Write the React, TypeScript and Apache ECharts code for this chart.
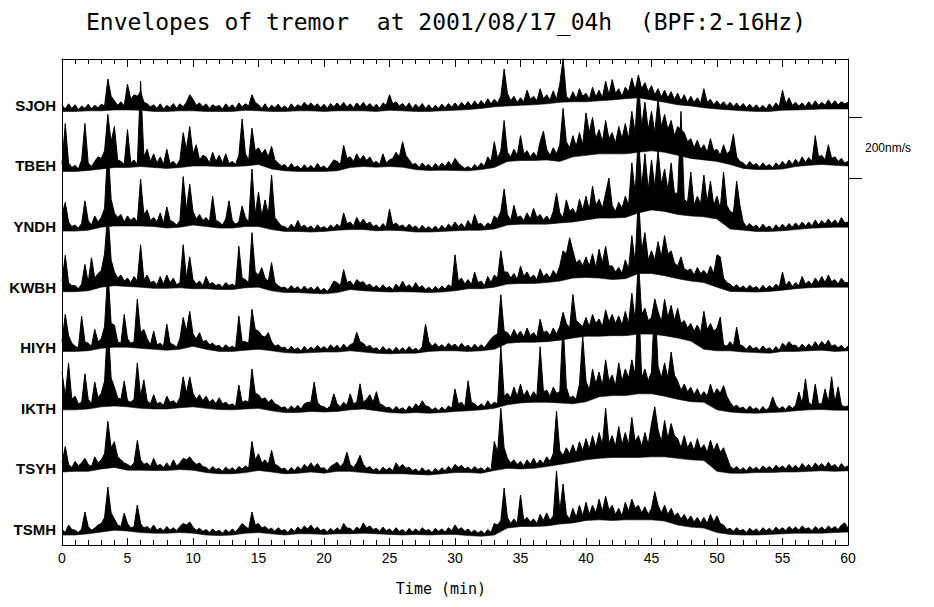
import React, { useEffect, useRef } from 'react';
import * as echarts from 'echarts';

const STATIONS = ['SJOH', 'TBEH', 'YNDH', 'KWBH', 'HIYH', 'IKTH', 'TSYH', 'TSMH'];
const TIME_STEP_MIN = 0.25; // upper-edge samples
const LOW_STEP_MIN = 1; // lower-edge samples
const TRACE_SPACING = 200; // nm/s between stacked traces
const LABEL_LEVEL = 40;
const SCALE_BAR = [1200, 1400];
const Y_MIN = -11;
const Y_MAX = 1593;

// upper edge of each envelope band (nm/s above the trace's own zero), every 0.25 min
const SJOH = [40,28,45,30, 42,26,38,30, 44,29,40,32, 44,38,127,70, 55,40,52,38, 110,60,75,70, 85,50,45,35, 42,30,45,28, 40,32,46,30, 45,35,50,75,
60,40,48,35, 45,30,42,35, 40,28,45,32, 42,30,48,35, 45,38,75,50, 42,30,45,28, 40,32,44,30, 38,28,45,32, 42,35,50,38, 48,36,45,32,
44,30,46,35, 48,36,50,34, 45,32,48,36, 50,35,46,33, 44,30,48,40, 75,45,52,38, 46,34,48,30, 44,32,46,30, 42,28,40,30, 44,32,46,34,
48,35,50,38, 52,38,55,40, 56,42,62,45, 60,48,70,160, 80,55,70,50, 65,52,90,60, 70,55,95,62, 75,58,88,60, 110,195,70,60, 85,62,95,70,
80,60,100,68, 90,65,120,75, 125,80,95,70, 100,85,130,90, 140,95,115,85, 105,75,95,68, 90,65,85,60, 80,55,75,50, 70,50,65,48, 95,50,60,42,
55,40,52,38, 50,36,48,34, 46,32,44,30, 42,30,40,28, 45,32,48,36, 90,45,65,40, 50,38,48,36, 52,38,55,40, 50,40,58,42, 55,42,52,45,
50];

const TBEH = [45,180,50,35, 42,30,60,180, 50,38,55,70, 65,90,210,120, 170,60,55,45, 160,50,60,45, 320,70,95,55, 80,50,70,45, 95,48,55,42, 60,150,95,170,
80,110,60,75, 70,50,85,55, 75,50,80,48, 55,45,75,195, 80,60,165,90, 100,80,95,70, 105,60,50,40, 45,32,48,35, 40,30,44,32, 42,30,48,34,
40,30,45,60, 55,45,108,65, 70,55,80,60, 75,58,70,50, 55,45,80,50, 60,65,85,70, 120,75,60,45, 48,35,50,38, 45,32,48,36, 50,38,55,42,
65,50,40,32, 38,30,45,35, 50,40,70,55, 120,65,90,190, 85,70,95,75, 140,80,90,70, 85,70,120,155, 95,75,100,80, 110,230,120,100, 140,105,150,110,
215,150,200,130, 160,120,190,130, 150,115,170,130, 180,130,220,150, 320,170,250,160, 220,150,260,170, 210,160,190,140, 170,160,150,120, 130,100,125,95, 110,85,130,90,
95,75,110,80, 90,145,70,55, 50,40,55,42, 48,36,50,38, 45,34,50,40, 55,42,60,45, 62,48,70,52, 68,55,140,70, 75,60,110,65, 70,55,65,50,
55];

const YNDH = [80,120,55,40, 45,35,50,125, 60,45,75,55, 70,100,310,130, 85,70,80,55, 75,60,70,55, 197,80,95,60, 70,55,85,50, 105,60,55,45, 60,205,95,180,
90,65,80,60, 70,55,140,60, 55,45,65,125, 60,48,55,108, 70,55,230,80, 154,75,128,80, 210,70,55,42, 40,32,48,35, 60,38,45,34, 42,30,46,34,
40,32,45,36, 48,38,85,50, 55,42,70,50, 65,48,55,40, 45,35,50,38, 98,45,52,40, 45,35,48,36, 42,30,44,32, 40,30,42,30, 44,32,48,38,
55,40,50,35, 60,42,80,48, 50,38,52,45, 75,65,90,164, 80,60,110,70, 75,60,85,65, 100,70,80,62, 75,60,90,150, 85,70,128,90, 100,80,130,95,
140,95,174,110, 130,100,150,200, 110,90,120,100, 140,110,250,150, 340,170,280,160, 260,170,290,180, 230,160,250,150, 150,420,130,120, 220,110,140,115, 210,120,190,110,
140,100,220,110, 90,85,190,110, 55,40,50,38, 45,32,48,35, 42,30,46,34, 48,36,50,38, 52,40,55,42, 55,42,62,45, 60,48,65,50, 62,48,70,52,
55];

const KWBH = [60,145,55,45, 45,35,50,115, 55,137,70,85, 95,150,290,130, 90,70,80,60, 70,55,75,60, 180,65,80,55, 60,48,75,50, 80,55,70,48, 55,180,70,140,
65,50,60,45, 75,50,55,45, 50,40,55,45, 50,42,175,70, 65,55,220,90, 80,104,70,60, 121,55,45,38, 40,32,45,34, 42,30,44,32, 40,30,42,28,
36,26,40,60, 55,45,98,55, 60,45,65,55, 58,45,50,38, 45,35,48,36, 42,32,50,38, 60,40,48,36, 55,38,45,32, 40,30,42,32, 44,34,48,40,
147,60,70,50, 65,48,90,55, 60,45,75,55, 80,70,160,90, 90,70,85,65, 110,75,90,70, 80,65,100,75, 85,70,95,80, 110,160,150,203, 160,120,130,110,
140,110,150,105, 165,120,175,110, 110,90,105,85, 130,100,210,120, 340,160,220,130, 160,130,190,140, 210,150,160,120, 110,140,100,95, 100,80,105,85, 95,80,110,85,
147,140,70,55, 50,40,48,36, 44,34,46,36, 42,32,46,34, 45,36,50,40, 90,45,60,42, 55,45,75,50, 60,48,70,55, 75,55,80,58, 65,50,70,55,
55];

const HIYH = [60,150,80,55, 45,40,144,60, 55,45,101,60, 70,110,299,120, 115,60,55,150, 70,55,60,200, 90,100,70,50, 95,50,55,45, 118,55,50,42, 70,140,95,160,
85,70,90,60, 65,50,55,45, 48,38,50,40, 45,38,145,60, 60,55,167,100, 95,80,75,90, 60,45,50,40, 42,32,45,34, 40,30,44,32, 42,34,48,36,
44,34,50,38, 48,36,52,40, 50,55,91,60, 55,42,48,36, 40,30,44,32, 38,28,42,30, 40,30,44,32, 38,30,44,118, 60,45,55,42, 50,40,55,45,
52,40,55,42, 48,38,52,40, 50,40,55,70, 80,85,215,95, 90,75,100,80, 95,75,105,80, 90,75,134,90, 95,80,105,85, 110,157,120,105, 216,130,120,110,
140,110,150,120, 135,110,165,125, 150,120,145,115, 160,120,220,130, 330,150,170,130, 140,200,160,125, 200,140,180,130, 170,120,130,105, 120,95,115,90, 160,100,120,95,
105,141,50,45, 60,45,108,50, 45,35,48,36, 42,32,46,34, 40,30,44,32, 55,45,60,48, 48,38,52,40, 52,42,60,45, 61,48,65,45, 50,40,48,36,
45];

const IKTH = [160,80,190,70, 80,55,60,154, 70,55,127,75, 90,130,330,140, 110,75,70,130, 65,60,70,190, 80,134,65,55, 85,55,60,50, 80,60,65,55, 75,144,90,144,
90,70,85,65, 80,60,70,55, 75,55,60,50, 55,45,117,60, 65,60,170,90, 85,70,75,60, 70,55,50,42, 45,35,48,38, 50,38,55,60, 60,127,60,48,
45,38,50,88, 55,45,60,50, 88,55,60,121, 60,70,85,60, 95,55,50,42, 44,34,46,36, 42,32,48,38, 55,45,65,48, 45,35,42,32, 44,34,48,40,
104,55,60,45, 131,60,55,45, 55,45,65,50, 60,55,246,80, 90,75,110,80, 120,80,100,75, 95,80,243,95, 100,80,110,90, 95,325,110,75, 80,70,120,279,
130,100,170,120, 160,115,200,130, 150,115,190,130, 170,140,200,150, 420,140,170,130, 160,400,180,140, 190,140,226,150, 130,100,120,95, 110,85,105,80, 95,80,120,85,
105,90,115,80, 60,45,50,40, 44,34,48,36, 42,32,46,34, 44,78,50,38, 46,36,50,40, 50,94,55,137, 60,50,120,55, 55,104,60,144, 60,111,50,45,
48];

const TSYH = [60,114,55,45, 65,50,60,75, 55,48,80,60, 70,90,197,110, 130,80,70,60, 55,48,60,134, 70,55,60,48, 75,50,55,45, 60,45,70,50, 60,75,70,80,
65,55,60,48, 45,36,48,38, 42,32,46,36, 44,34,48,40, 50,42,131,70, 90,60,70,55, 101,55,50,40, 42,32,45,34, 48,38,55,45, 60,45,58,42,
44,34,48,55, 62,48,60,95, 55,45,60,85, 55,42,48,36, 42,32,46,36, 44,34,60,45, 55,42,46,34, 40,30,44,32, 38,28,42,32, 44,34,48,38,
55,45,52,40, 46,36,48,38, 44,34,46,36, 131,95,240,110, 75,60,70,55, 65,50,70,55, 75,55,70,58, 80,65,90,230, 100,85,110,90, 120,90,130,100,
140,105,150,110, 160,120,240,125, 150,115,180,120, 160,120,210,130, 150,115,160,120, 190,245,170,130, 200,140,190,150, 140,110,150,110, 130,100,140,105, 120,95,135,100,
125,95,110,80, 50,40,48,36, 44,34,48,38, 46,36,50,40, 48,38,52,42, 50,40,55,42, 52,40,58,45, 55,42,60,48, 58,45,62,48, 55,42,58,45,
50];

const TSMH = [40,30,55,40, 38,30,42,98, 50,38,45,55, 60,80,180,95, 75,55,50,94, 60,45,50,121, 60,45,50,40, 55,38,45,36, 50,38,46,36, 50,60,55,65,
48,38,44,34, 40,30,42,32, 38,28,40,30, 42,32,45,60, 50,42,98,55, 60,45,50,40, 44,34,46,36, 40,30,44,34, 48,38,52,42, 55,40,48,36,
42,32,44,34, 46,36,60,45, 44,34,48,40, 62,45,52,40, 44,34,48,36, 42,32,46,34, 40,30,44,32, 42,32,46,36, 40,30,44,34, 42,32,46,36,
55,40,46,34, 42,30,38,28, 36,26,40,30, 60,55,70,177, 80,60,75,60, 154,70,80,65, 75,60,90,70, 95,70,85,233, 100,190,90,75, 110,80,120,85,
130,90,120,95, 140,100,150,105, 120,90,110,85, 130,100,140,110, 120,95,115,90, 110,165,120,95, 120,90,110,85, 95,75,90,70, 85,65,80,62, 80,60,90,65,
85,60,55,40, 44,34,46,36, 40,30,44,34, 42,32,46,36, 44,34,48,38, 46,36,50,40, 48,38,52,42, 46,36,50,40, 48,38,52,42, 50,40,55,62,
45];

// lower edge of each envelope band, every 1 min
const SJOH_LOW = [20,20,22,22,25,25,24,20,20,22, 22,20,20,20,24,22,20,20,22,22, 20,22,22,22,20,24,22,20,20,22,
24,26,30,35,38,40,42,45,50,52, 52,55,58,62,65,58,50,42,38,32, 28,25,22,20,20,24,25,26,28,28, 28];
const TBEH_LOW = [22,22,25,30,35,35,38,35,32,35, 40,40,38,38,40,45,30,24,22,22, 22,24,35,38,36,38,36,28,25,26,
25,24,28,35,55,58,58,60,55,70, 75,80,80,80,85,90,85,75,65,60, 55,45,32,28,28,30,38,42,45,42, 40];
const YNDH_LOW = [25,25,28,38,42,42,42,40,35,38, 45,40,35,35,40,40,30,24,24,22, 24,28,30,30,26,28,26,22,22,24,
26,28,28,32,45,48,48,48,52,55, 62,68,68,70,85,95,90,80,75,72, 65,32,28,24,24,26,30,34,36,38, 38];
const KWBH_LOW = [25,25,28,40,45,42,40,36,36,38, 35,35,32,32,38,40,28,22,22,20, 18,22,32,28,26,24,25,24,22,24,
28,35,35,40,50,52,52,55,60,70, 72,70,65,68,85,85,78,68,60,55, 40,26,25,24,26,30,35,38,40,40, 40];
const HIYH_LOW = [28,28,30,38,42,42,38,35,32,35, 45,35,28,28,32,35,30,24,22,24, 26,26,30,26,22,20,22,22,28,30,
30,28,30,35,55,58,58,60,65,72, 78,78,80,80,85,85,80,72,62,35, 30,30,26,24,22,28,28,30,32,28, 30];
const IKTH_LOW = [35,35,38,45,48,45,40,38,38,42, 45,40,36,35,38,40,32,26,26,30, 28,30,35,38,32,26,24,26,24,26,
30,32,35,40,52,58,60,60,58,55, 62,78,82,82,88,88,80,70,62,60, 35,28,25,24,26,28,32,35,36,34, 34];
const TSYH_LOW = [30,32,32,40,45,36,36,35,35,38, 36,28,24,24,28,35,30,24,26,30, 26,32,32,28,24,24,24,22,20,24,
28,28,26,35,42,40,42,48,55,62, 70,75,78,78,78,80,80,75,70,68, 32,26,26,28,28,30,30,32,34,32, 34];
const TSMH_LOW = [22,22,26,32,38,35,30,28,28,30, 28,22,20,22,28,30,26,22,26,26, 24,26,26,28,26,24,22,24,22,24,
24,20,18,22,45,50,50,52,58,62, 70,72,70,72,72,72,68,55,48,45, 30,24,22,22,24,26,28,28,28,30, 32];

const TRACES = [SJOH, TBEH, YNDH, KWBH, HIYH, IKTH, TSYH, TSMH];
const LOWS = [SJOH_LOW, TBEH_LOW, YNDH_LOW, KWBH_LOW, HIYH_LOW, IKTH_LOW, TSYH_LOW, TSMH_LOW];

export default function App() {
  const ref = useRef<HTMLDivElement>(null);
  useEffect(() => {
    if (!ref.current) return;
    const chart = echarts.init(ref.current, null, { renderer: 'svg' });
    const n = STATIONS.length;
    const series: any[] = [];
    TRACES.forEach((vals, k) => {
      const offset = (n - 1 - k) * TRACE_SPACING;
      // band top (black fill downwards)
      series.push({
        type: 'line',
        name: STATIONS[k],
        data: vals.map((v, j) => [j * TIME_STEP_MIN, offset + v]),
        showSymbol: false,
        symbol: 'none',
        silent: true,
        clip: true,
        z: 2 + 2 * k,
        lineStyle: { color: '#000', width: 1 },
        areaStyle: { color: '#000', opacity: 1, origin: 'start' },
      });
      // band bottom (white fill below it)
      series.push({
        type: 'line',
        name: STATIONS[k] + ' low',
        data: LOWS[k].map((v, j) => [j * LOW_STEP_MIN, offset + v]),
        showSymbol: false,
        symbol: 'none',
        silent: true,
        clip: true,
        z: 3 + 2 * k,
        lineStyle: { color: '#000', width: 0.6 },
        areaStyle: { color: '#fff', opacity: 1, origin: 'start' },
      });
    });
    const labelValues = STATIONS.map((_, k) => (n - 1 - k) * TRACE_SPACING + LABEL_LEVEL);
    const black = { color: '#000', width: 1 };
    chart.setOption({
      animation: false,
      backgroundColor: '#fff',
      title: {
        text: 'Envelopes of tremor  at 2001/08/17_04h  (BPF:2-16Hz)',
        left: 86,
        top: 10,
        padding: 0,
        textStyle: { fontFamily: 'DejaVu Sans Mono', fontSize: 23, fontWeight: 'normal', color: '#000' },
      },
      grid: { left: 62, top: 59, width: 786, height: 486, show: false },
      xAxis: [
        {
          type: 'value', min: 0, max: 60, interval: 5, position: 'bottom', z: 50,
          axisLine: { show: true, onZero: false, lineStyle: black },
          axisTick: { show: true, inside: true, length: 7, lineStyle: black },
          minorTick: { show: true, splitNumber: 5, length: 5, lineStyle: black },
          splitLine: { show: false },
          axisLabel: { color: '#000', fontSize: 14, margin: 6, fontFamily: 'Liberation Sans Narrow, Liberation Sans, sans-serif' },
          name: 'Time (min)', nameLocation: 'middle', nameGap: 36,
          nameTextStyle: { color: '#000', fontSize: 15, fontFamily: 'DejaVu Sans Mono', padding: [0, 28, 0, 0] },
        },
        {
          type: 'value', min: 0, max: 60, interval: 5, position: 'top', z: 50,
          axisLine: { show: true, onZero: false, lineStyle: black },
          axisTick: { show: true, inside: true, length: 8, lineStyle: black },
          minorTick: { show: true, splitNumber: 5, length: 5, lineStyle: black },
          splitLine: { show: false },
          axisLabel: { show: false },
        },
      ],
      yAxis: [
        {
          type: 'value', min: Y_MIN, max: Y_MAX, position: 'left', z: 50,
          axisLine: { show: true, onZero: false, lineStyle: black },
          axisTick: { show: false },
          splitLine: { show: false },
          axisLabel: {
            customValues: labelValues,
            formatter: (v: number) => STATIONS[n - 1 - Math.round((v - LABEL_LEVEL) / TRACE_SPACING)],
            color: '#000', fontSize: 15, fontWeight: 'bold', margin: 6, fontFamily: 'Liberation Sans, Arial, sans-serif',
          },
        },
        {
          type: 'value', min: Y_MIN, max: Y_MAX, position: 'right', z: 50,
          axisLine: { show: true, onZero: false, lineStyle: black },
          axisTick: { show: true, inside: false, length: 14, customValues: SCALE_BAR, lineStyle: black },
          splitLine: { show: false },
          axisLabel: {
            customValues: [(SCALE_BAR[0] + SCALE_BAR[1]) / 2],
            formatter: () => `${SCALE_BAR[1] - SCALE_BAR[0]}nm/s`,
            color: '#000', fontSize: 12, margin: 17, fontFamily: 'Liberation Sans, Arial, sans-serif',
          },
        },
      ],
      series,
    });
    return () => chart.dispose();
  }, []);
  return (
    <div
      ref={ref}
      style={{ position: 'absolute', left: 0, top: 0, width: 934, height: 607, background: '#fff' }}
    />
  );
}
